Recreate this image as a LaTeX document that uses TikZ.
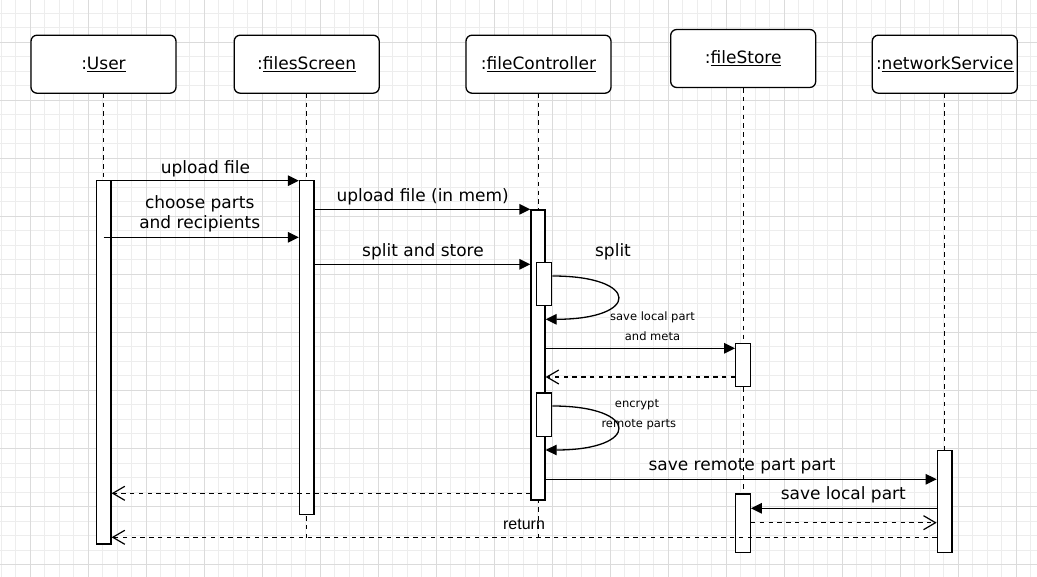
\documentclass[tikz,border=0pt]{standalone}
\usepackage{fontspec}
\setmainfont{DejaVu Sans}
\newfontfamily\helvfont{Liberation Sans}
\usetikzlibrary{arrows.meta}

\begin{document}
\begin{tikzpicture}[
  x=1pt, y=-1pt,
  every node/.style={font=\fontsize{17}{20}\selectfont, inner sep=0pt},
  objbox/.style={rectangle, draw, line width=1.3pt, rounded corners=6pt, minimum width=145pt, minimum height=58pt, fill=white},
  actbar/.style={rectangle, draw, line width=1.3pt, fill=white, minimum width=14.5pt, anchor=north},
  lifeline/.style={line width=1.2pt, dash pattern=on 4.4pt off 4.4pt},
  callmsg/.style={line width=1.3pt, -{Triangle[length=11pt, width=10.5pt]}},
  replymsg/.style={line width=1.2pt, dash pattern=on 4.4pt off 4.4pt, -{Straight Barb[length=12pt, width=14pt]}},
  msglabel/.style={anchor=base},
  smalllabel/.style={anchor=base, font=\fontsize{11.5}{14}\selectfont},
  gridminor/.style={line width=0.6pt, gray!14},
  gridmajor/.style={line width=0.7pt, gray!28},
]

% Background grid
\useasboundingbox (0,0) rectangle (1037,577);
\fill[white] (0,0) rectangle (1037,577);
\foreach \gx in {0,...,71}
  \draw[gridminor] ({0.9+14.5*\gx},0) -- ({0.9+14.5*\gx},577);
\foreach \gy in {0,...,39}
  \draw[gridminor] (0,{13.3+14.5*\gy}) -- (1037,{13.3+14.5*\gy});
\foreach \gx in {0,...,17}
  \draw[gridmajor] ({29.9+58*\gx},0) -- ({29.9+58*\gx},577);
\foreach \gy in {0,...,9}
  \draw[gridmajor] (0,{42.3+58*\gy}) -- (1037,{42.3+58*\gy});

% Objects
\node[objbox] (usr) at (103.5,64.2) {:\underline{User}};
\node[objbox] (scr) at (306.7,64.2) {:\underline{filesScreen}};
\node[objbox] (ctl) at (538.5,64.2) {:\underline{fileController}};
\node[objbox] (sto) at (743.2,58.5) {:\underline{fileStore}};
\node[objbox] (net) at (944.8,64.2) {:\underline{networkService}};

% Lifelines
\coordinate (endA) at (0,540);
\coordinate (endB) at (0,551.7);
\draw[lifeline] (usr.south) -- (usr.south |- endA);
\draw[lifeline] (scr.south) -- (scr.south |- endA);
\draw[lifeline] (ctl.south) -- (ctl.south |- endA);
\draw[lifeline] (sto.south) -- (sto.south |- endB);
\draw[lifeline] (net.south) -- (net.south |- endB);

% Activations
\node[actbar, minimum height=363.3pt] (usrbar) at (103.7,180) {};
\node[actbar, minimum height=334pt] (scrbar) at (306.7,180) {};
\node[actbar, minimum width=14pt, minimum height=290pt] (ctlbar) at (538,209.3) {};
\node[actbar, minimum width=15pt, minimum height=43.3pt] (splitbar) at (544.2,261.7) {};
\node[actbar, minimum width=15pt, minimum height=43.4pt] (encbar) at (544.2,392.3) {};
\node[actbar, minimum height=43.3pt] (stobarA) at (743,342.7) {};
\node[actbar, minimum height=58.4pt] (stobarB) at (743,493.3) {};
\node[actbar, minimum height=101.7pt] (netbar) at (944.6,450) {};

% Message levels
\coordinate (m1) at (0,180.7);
\coordinate (m2) at (0,237.3);
\coordinate (m3) at (0,209.3);
\coordinate (m4) at (0,264.3);
\coordinate (s1) at (0,276);
\coordinate (s2) at (0,319.3);
\coordinate (m5) at (0,348.3);
\coordinate (m6) at (0,377);
\coordinate (e1) at (0,406);
\coordinate (e2) at (0,450);
\coordinate (m7) at (0,479.3);
\coordinate (m8) at (0,493.3);
\coordinate (m9) at (0,508.3);
\coordinate (m10) at (0,522.7);
\coordinate (m11) at (0,537.3);

% Messages
\draw[callmsg] (usrbar.east |- m1) -- (scrbar.west |- m1);
\draw[callmsg] (usrbar.center |- m2) -- (scrbar.west |- m2);
\draw[callmsg] (scrbar.east |- m3) -- (ctlbar.west |- m3);
\draw[callmsg] (scrbar.east |- m4) -- (ctlbar.west |- m4);
\draw[callmsg] (splitbar.east |- s1) .. controls +(88,0) and +(95,0) .. (ctlbar.east |- s2);
\draw[callmsg] (ctlbar.east |- m5) -- (stobarA.west |- m5);
\draw[replymsg] (stobarA.west |- m6) -- (ctlbar.east |- m6);
\draw[callmsg] (encbar.east |- e1) .. controls +(88,0) and +(95,0) .. (ctlbar.east |- e2);
\draw[callmsg] (ctlbar.east |- m7) -- (netbar.west |- m7);
\draw[replymsg] (ctlbar.west |- m8) -- (usrbar.east |- m8);
\draw[callmsg] (netbar.west |- m9) -- (stobarB.east |- m9);
\draw[replymsg] (stobarB.east |- m10) -- (netbar.west |- m10);
\draw[replymsg] (netbar.west |- m11) -- (usrbar.east |- m11);

% Labels
\node[msglabel] (upl) at (205.5,173.3) {upload file};
\node[msglabel] (chsA) at (199.7,208.7) {choose parts};
\node[msglabel] (chsB) at (199.7,228.3) {and recipients};
\node[msglabel] (uplmem) at (422.7,201.7) {upload file (in mem)};
\node[msglabel] (spst) at (423,256.7) {split and store};
\node[msglabel] (spl) at (613,256.7) {split};
\node[smalllabel] (savA) at (652.5,320.7) {save local part};
\node[smalllabel] (savB) at (652.5,340.7) {and meta};
\node[smalllabel] (encA) at (637,407.3) {encrypt};
\node[smalllabel] (encB) at (638.8,427.3) {remote parts};
\node[msglabel] (savrem) at (742,470.7) {save remote part part};
\node[msglabel] (savloc) at (843.3,499.3) {save local part};
\node[msglabel, font=\helvfont\fontsize{16}{19}\selectfont] (ret) at (524,529) {return};

\end{tikzpicture}
\end{document}
